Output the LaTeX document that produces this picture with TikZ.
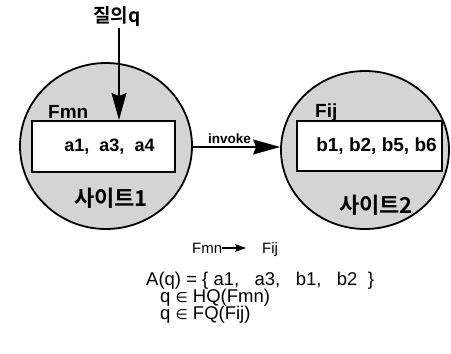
\documentclass[tikz,border=0pt]{standalone}
\usepackage{fontspec}
\setmainfont{Liberation Sans}
\newfontfamily\kr{Noto Sans CJK KR}[BoldFont={Noto Sans CJK KR Bold}]
\newfontfamily\symfont{DejaVu Sans}
\usetikzlibrary{shapes.geometric,arrows.meta}
\begin{document}
\begin{tikzpicture}[x=1pt,y=-1pt,
  site/.style={ellipse,draw=black,line width=1.8pt,fill=black!17,inner sep=0pt},
  fragbox/.style={draw=black,line width=2pt,fill=white,inner sep=0pt,
    font=\fontsize{18}{20}\selectfont\bfseries},
  tag/.style={inner sep=0pt,font=\fontsize{19}{21}\selectfont\bfseries},
  sitename/.style={inner sep=0pt,font=\fontsize{22}{24}\selectfont\kr\bfseries},
  formula/.style={inner sep=0pt,anchor=base west,font=\fontsize{18.5}{20}\selectfont},
  bigarrow/.style={line width=1.3pt,-{Stealth[length=27pt,width=15pt,inset=3pt]}},
  smallarrow/.style={line width=1.2pt,-{Stealth[length=11pt,width=8pt,inset=2pt]}}]
\useasboundingbox (0,0) rectangle (451,354);

% the two sites
\node[site,minimum width=172pt,minimum height=166pt] (s1) at (106,146) {};
\node[site,minimum width=168pt,minimum height=158pt] (s2) at (365,150) {};

% fragments held by each site
\node[fragbox,minimum width=143pt,minimum height=51pt] (f1) at (103,146.5)
  {\hspace{13pt}a1,\ \ a3,\ \ a4};
\node[fragbox,minimum width=145pt,minimum height=50pt,
  font=\fontsize{19}{21}\selectfont\bfseries] (f2) at (369.5,146)
  {\hspace{14pt}b1,\ b2,\ b5,\ b6};
\node[tag,anchor=base west] (t1) at (48,118) {Fmn};
\node[tag,anchor=base west] (t2) at (315,117) {Fij};

\node[sitename] (n1) at (111,198) {사이트1};
\node[sitename] (n2) at (376,205) {사이트2};

% incoming query
\node[inner sep=0pt,font=\fontsize{19}{21}\selectfont\kr\bfseries] (q) at (117,17) {질의q};
\coordinate (qin) at (119,28);
\draw[bigarrow] (qin) -- (qin |- f1.north);

% invocation between sites
\coordinate (inv) at ([yshift=-1pt]s1.east);
\draw[bigarrow] (inv) -- (inv -| s2.west)
  node[pos=0.42,above=3pt,inner sep=0pt,font=\fontsize{13.5}{15}\selectfont\bfseries] (il) {invoke};

% fragment relation and query answer
\node[formula,font=\fontsize{15}{17}\selectfont] (r1) at (192,253) {Fmn};
\node[formula,font=\fontsize{15}{17}\selectfont] (r2) at (262,253) {Fij};
\draw[smallarrow,shorten >=16pt] ([yshift=5pt]r1.base east) -- ([yshift=5pt]r2.base west);

\node[formula] (a) at (146,285) {A(q)\ =\ \{\ a1,\ \ \ a3,\ \ \ b1,\ \ \ b2\ \ \}};
\node[formula] (h) at (160,302) {q\ {\symfont\fontsize{14}{16}\selectfont ∈}\ HQ(Fmn)};
\node[formula] (g) at (160,319) {q\ {\symfont\fontsize{14}{16}\selectfont ∈}\ FQ(Fij)};
\end{tikzpicture}
\end{document}
